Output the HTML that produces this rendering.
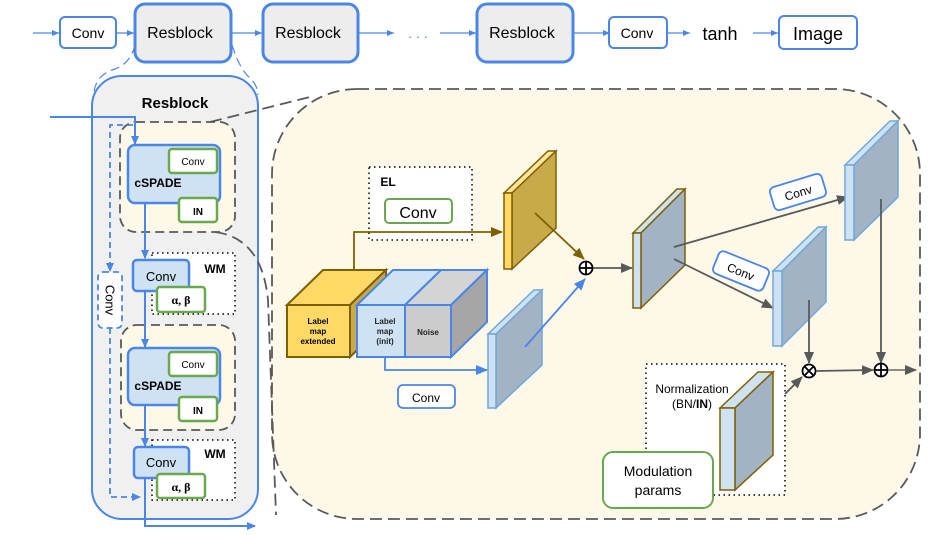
<!DOCTYPE html>
<html><head><meta charset="utf-8"><style>
html,body{margin:0;padding:0;background:#fff;}
svg{display:block;font-family:"Liberation Sans",Arial,sans-serif;}
</style></head><body>
<svg width="952" height="535" viewBox="0 0 952 535" xmlns="http://www.w3.org/2000/svg">
<defs>
<marker id="ab" markerWidth="9" markerHeight="9" refX="8" refY="4.5" orient="auto" markerUnits="userSpaceOnUse"><path d="M0,0.5 L9,4.5 L0,8.5z" fill="#4a86e8"/></marker>
<marker id="abs" markerWidth="8" markerHeight="6" refX="7" refY="3" orient="auto" markerUnits="userSpaceOnUse"><path d="M0,0 L7,3 L0,6z" fill="#4a86e8"/></marker>
<marker id="ag" markerWidth="12" markerHeight="10" refX="11" refY="5" orient="auto" markerUnits="userSpaceOnUse"><path d="M0,0 L12,5 L0,10z" fill="#595959"/></marker>
<marker id="aw" markerWidth="12" markerHeight="10" refX="11" refY="5" orient="auto" markerUnits="userSpaceOnUse"><path d="M0,0 L12,5 L0,10z" fill="#7f6000"/></marker>
<marker id="aB" markerWidth="12" markerHeight="10" refX="11" refY="5" orient="auto" markerUnits="userSpaceOnUse"><path d="M0,0 L12,5 L0,10z" fill="#4a86e8"/></marker>
</defs>

<!-- top row -->
<g stroke="#4a86e8" stroke-width="1.2" fill="none">
<line x1="33" y1="33" x2="59" y2="33" marker-end="url(#abs)"/>
<line x1="116" y1="33" x2="134" y2="33" marker-end="url(#abs)"/>
<line x1="231" y1="33" x2="262" y2="33" marker-end="url(#abs)"/>
<line x1="358" y1="33" x2="394" y2="33" marker-end="url(#abs)"/>
<line x1="440" y1="33" x2="476" y2="33" marker-end="url(#abs)"/>
<line x1="573" y1="33" x2="610" y2="33" marker-end="url(#abs)"/>
<line x1="667" y1="33" x2="690" y2="33" marker-end="url(#abs)"/>
<line x1="753" y1="33" x2="778" y2="33" marker-end="url(#abs)"/>
</g>
<rect x="60" y="17" width="56" height="31" rx="5" fill="#fff" stroke="#4a86e8" stroke-width="2"/>
<text x="88" y="38" font-size="14" text-anchor="middle">Conv</text>
<rect x="135" y="4" width="96" height="58" rx="10" fill="#ededed" stroke="#4a86e8" stroke-width="3"/>
<text x="180" y="38" font-size="16" text-anchor="middle">Resblock</text>
<rect x="263" y="4" width="95" height="58" rx="10" fill="#ededed" stroke="#4a86e8" stroke-width="3"/>
<text x="308" y="38" font-size="16" text-anchor="middle">Resblock</text>
<text x="418" y="38" font-size="14" text-anchor="middle" fill="#4a86e8">. . .</text>
<rect x="477" y="4" width="96" height="58" rx="10" fill="#ededed" stroke="#4a86e8" stroke-width="3"/>
<text x="522" y="38" font-size="16" text-anchor="middle">Resblock</text>
<rect x="609" y="17" width="58" height="31" rx="5" fill="#fff" stroke="#4a86e8" stroke-width="2"/>
<text x="637" y="38" font-size="14" text-anchor="middle">Conv</text>
<text x="720" y="40" font-size="18" text-anchor="middle">tanh</text>
<rect x="779" y="16" width="78" height="33" rx="5" fill="#fff" stroke="#4a86e8" stroke-width="2"/>
<text x="818" y="40" font-size="18" text-anchor="middle">Image</text>

<!-- dashed connectors to resblock -->
<path d="M135,45 Q130,65 112,70 Q96,76 94,92" fill="none" stroke="#4a86e8" stroke-width="1.2" stroke-dasharray="9,5"/>
<path d="M232,45 Q240,70 250,78 Q258,86 258,95" fill="none" stroke="#4a86e8" stroke-width="1.2" stroke-dasharray="9,5"/>

<!-- big dashed panel -->
<rect x="272" y="89" width="648" height="430" rx="85" fill="#fef8e8" stroke="#595959" stroke-width="1.8" stroke-dasharray="12,6"/>

<!-- resblock detail -->
<rect x="92" y="76" width="166" height="443" rx="30" fill="#f0f0f0" stroke="#4a86e8" stroke-width="2"/>
<text x="175" y="108" font-size="15" font-weight="bold" text-anchor="middle">Resblock</text>

<rect x="120" y="122" width="115" height="110" rx="16" fill="#fdf8e8" stroke="#595959" stroke-width="1.8" stroke-dasharray="9,5"/>
<rect x="121" y="325" width="114" height="105" rx="16" fill="#fdf8e8" stroke="#595959" stroke-width="1.8" stroke-dasharray="9,5"/>
<path d="M210,122 L310,97" fill="none" stroke="#595959" stroke-width="1.8" stroke-dasharray="12,6"/>
<path d="M215,232 Q262,238 268,300 L276,515" fill="none" stroke="#595959" stroke-width="1.8" stroke-dasharray="12,6"/>

<!-- input line -->
<path d="M50,117 L135,117 L135,144" fill="none" stroke="#4a86e8" stroke-width="2" marker-end="url(#ab)"/>
<!-- dashed skip -->
<path d="M133,125 L110,125 L110,271" fill="none" stroke="#4a86e8" stroke-width="1.8" stroke-dasharray="6,4" marker-end="url(#ab)"/>
<rect x="98" y="272" width="24" height="56" rx="5" fill="#fff" stroke="#4a86e8" stroke-width="1.8" stroke-dasharray="6,4"/>
<text x="110" y="300" font-size="13" text-anchor="middle" dominant-baseline="central" transform="rotate(90 110 300)">Conv</text>
<path d="M110,328 L110,497 L140,497" fill="none" stroke="#4a86e8" stroke-width="1.8" stroke-dasharray="6,4" marker-end="url(#ab)"/>

<!-- cSPADE 1 -->
<rect x="128" y="145" width="92" height="58" rx="7" fill="#cfe2f3" stroke="#4a86e8" stroke-width="2.5"/>
<rect x="169" y="149" width="48" height="24" rx="3" fill="#fff" stroke="#6aa84f" stroke-width="2.5"/>
<text x="193" y="165" font-size="10" text-anchor="middle">Conv</text>
<text x="158" y="187" font-size="12" font-weight="bold" text-anchor="middle">cSPADE</text>
<rect x="179" y="198" width="38" height="24" rx="3" fill="#fff" stroke="#6aa84f" stroke-width="2.5"/>
<text x="198" y="215" font-size="10" font-weight="bold" text-anchor="middle">IN</text>
<line x1="145" y1="203" x2="145" y2="258" stroke="#4a86e8" stroke-width="2" marker-end="url(#ab)"/>

<!-- WM 1 -->
<rect x="152" y="253" width="83" height="61" fill="#fff" stroke="#000" stroke-width="1.5" stroke-dasharray="1.5,3.5"/>
<text x="215" y="273" font-size="12" font-weight="bold" text-anchor="middle">WM</text>
<rect x="133" y="260" width="56" height="31" rx="4" fill="#cfe2f3" stroke="#4a86e8" stroke-width="2.5"/>
<text x="161" y="281" font-size="13" text-anchor="middle">Conv</text>
<rect x="157" y="287" width="48" height="25" rx="3" fill="#fff" stroke="#6aa84f" stroke-width="2.5"/>
<text x="181" y="304" font-size="12" font-weight="bold" font-family="Liberation Serif,serif" text-anchor="middle">α, β</text>
<line x1="145" y1="291" x2="145" y2="347" stroke="#4a86e8" stroke-width="2" marker-end="url(#ab)"/>

<!-- cSPADE 2 -->
<rect x="128" y="348" width="92" height="57" rx="7" fill="#cfe2f3" stroke="#4a86e8" stroke-width="2.5"/>
<rect x="169" y="352" width="48" height="24" rx="3" fill="#fff" stroke="#6aa84f" stroke-width="2.5"/>
<text x="193" y="368" font-size="10" text-anchor="middle">Conv</text>
<text x="158" y="390" font-size="12" font-weight="bold" text-anchor="middle">cSPADE</text>
<rect x="179" y="397" width="38" height="24" rx="3" fill="#fff" stroke="#6aa84f" stroke-width="2.5"/>
<text x="198" y="414" font-size="10" font-weight="bold" text-anchor="middle">IN</text>
<line x1="145" y1="405" x2="145" y2="446" stroke="#4a86e8" stroke-width="2" marker-end="url(#ab)"/>

<!-- WM 2 -->
<rect x="152" y="440" width="83" height="60" fill="#fff" stroke="#000" stroke-width="1.5" stroke-dasharray="1.5,3.5"/>
<text x="215" y="458" font-size="12" font-weight="bold" text-anchor="middle">WM</text>
<rect x="134" y="447" width="55" height="31" rx="4" fill="#cfe2f3" stroke="#4a86e8" stroke-width="2.5"/>
<text x="161" y="467" font-size="13" text-anchor="middle">Conv</text>
<rect x="157" y="474" width="48" height="24" rx="3" fill="#fff" stroke="#6aa84f" stroke-width="2.5"/>
<text x="181" y="491" font-size="12" font-weight="bold" font-family="Liberation Serif,serif" text-anchor="middle">α, β</text>
<path d="M145,478 L145,526 L255,526" fill="none" stroke="#4a86e8" stroke-width="2" marker-end="url(#ab)"/>

<!-- EL box -->
<rect x="369" y="167" width="103" height="73" fill="#fff" stroke="#000" stroke-width="1.5" stroke-dasharray="1.5,3.5"/>
<text x="388" y="186" font-size="12" font-weight="bold" text-anchor="middle">EL</text>
<rect x="385" y="199" width="67" height="24" rx="4" fill="#fff" stroke="#6aa84f" stroke-width="2"/>
<text x="418" y="218" font-size="16" text-anchor="middle">Conv</text>
<path d="M354,270 L354,232 L502,232" fill="none" stroke="#7f6000" stroke-width="1.8" marker-end="url(#aw)"/>

<!-- cubes -->
<polygon points="287,305 323,270 386,270 350,305" fill="#ffd966" stroke="#7f6000" stroke-width="2"/>
<polygon points="350,305 386,270 386,322 350,357" fill="#c9a94a" stroke="#7f6000" stroke-width="2"/>
<rect x="287" y="305" width="63" height="52" fill="#ffd966" stroke="#7f6000" stroke-width="2"/>
<text font-size="8" font-weight="bold" text-anchor="middle"><tspan x="318" y="324">Label</tspan><tspan x="318" y="334">map</tspan><tspan x="318" y="344">extended</tspan></text>
<polygon points="357,305 393,270 441,270 405,305" fill="#cfe2f3" stroke="#4a86e8" stroke-width="2"/>
<polygon points="405,305 441,270 487,270 451,305" fill="#d4d4d4" stroke="#4a86e8" stroke-width="2"/>
<polygon points="451,305 487,270 487,322 451,357" fill="#a6a6a6" stroke="#4a86e8" stroke-width="2"/>
<rect x="357" y="305" width="48" height="52" fill="#cfe2f3" stroke="#4a86e8" stroke-width="2"/>
<rect x="405" y="305" width="46" height="52" fill="#cccccc" stroke="#4a86e8" stroke-width="2"/>
<text font-size="8" font-weight="bold" text-anchor="middle" fill="#222"><tspan x="385" y="324">Label</tspan><tspan x="385" y="334">map</tspan><tspan x="385" y="344">(init)</tspan></text>
<text x="428" y="335" font-size="8" font-weight="bold" text-anchor="middle" fill="#222">Noise</text>

<!-- gold plane -->
<polygon points="504,193 548,151 556,151 512,193" fill="#ffe599" stroke="#7f6000" stroke-width="1.5"/>
<polygon points="512,193 556,151 556,228 512,269" fill="#c9a94a" stroke="#7f6000" stroke-width="1.5"/>
<rect x="504" y="193" width="8" height="76" fill="#ffd966" stroke="#7f6000" stroke-width="1.5"/>
<line x1="535" y1="213" x2="584" y2="259" stroke="#7f6000" stroke-width="1.8" marker-end="url(#aw)"/>

<!-- blue plane lower -->
<polygon points="488,334 534,290 542,290 496,334" fill="#cfe2f3" stroke="#6fa8dc" stroke-width="1.5"/>
<polygon points="496,334 542,290 542,365 496,408" fill="#a2b3c3" stroke="#6fa8dc" stroke-width="1.5"/>
<rect x="488" y="334" width="8" height="74" fill="#cfe2f3" stroke="#6fa8dc" stroke-width="1.5"/>
<path d="M385,357 L385,370 L487,370" fill="none" stroke="#4a86e8" stroke-width="1.8" marker-end="url(#aB)"/>
<rect x="398" y="385" width="57" height="23" rx="5" fill="#fff" stroke="#4a86e8" stroke-width="1.8"/>
<text x="426" y="402" font-size="12" text-anchor="middle">Conv</text>
<line x1="525" y1="347" x2="585" y2="279" stroke="#4a86e8" stroke-width="1.8" marker-end="url(#aB)"/>

<!-- oplus 1 -->
<circle cx="586" cy="268" r="6.5" fill="#fff" stroke="#000" stroke-width="1.8"/>
<line x1="579.5" y1="268" x2="592.5" y2="268" stroke="#000" stroke-width="1.8"/>
<line x1="586" y1="261.5" x2="586" y2="274.5" stroke="#000" stroke-width="1.8"/>
<line x1="593" y1="268" x2="632" y2="268" stroke="#595959" stroke-width="1.8" marker-end="url(#ag)"/>

<!-- middle plane -->
<polygon points="633,233 677,189 685,189 641,233" fill="#cfe2f3" stroke="#7f6000" stroke-width="1.5"/>
<polygon points="641,233 685,189 685,265 641,308" fill="#a2b3c3" stroke="#7f6000" stroke-width="1.5"/>
<rect x="633" y="233" width="8" height="75" fill="#cfe2f3" stroke="#7f6000" stroke-width="1.5"/>
<line x1="674" y1="247" x2="848" y2="197" stroke="#595959" stroke-width="1.8" marker-end="url(#ag)"/>
<line x1="674" y1="259" x2="773" y2="308" stroke="#595959" stroke-width="1.8" marker-end="url(#ag)"/>

<!-- upper right plane -->
<polygon points="845,165 890,121 898,121 854,165" fill="#cfe2f3" stroke="#6fa8dc" stroke-width="1.5"/>
<polygon points="854,165 898,121 898,197 854,240" fill="#a2b3c3" stroke="#6fa8dc" stroke-width="1.5"/>
<rect x="845" y="165" width="9" height="75" fill="#cfe2f3" stroke="#6fa8dc" stroke-width="1.5"/>
<!-- lower right plane -->
<polygon points="773,271 818,227 826,227 782,271" fill="#cfe2f3" stroke="#6fa8dc" stroke-width="1.5"/>
<polygon points="782,271 826,227 826,302 782,346" fill="#a2b3c3" stroke="#6fa8dc" stroke-width="1.5"/>
<rect x="773" y="271" width="9" height="75" fill="#cfe2f3" stroke="#6fa8dc" stroke-width="1.5"/>

<!-- rotated conv labels -->
<g transform="translate(798,192) rotate(-17)">
<rect x="-27" y="-12" width="54" height="24" rx="5" fill="#fff" stroke="#4a86e8" stroke-width="1.8"/>
<text x="0" y="5" font-size="12" text-anchor="middle">Conv</text></g>
<g transform="translate(741,271) rotate(22)">
<rect x="-27" y="-12" width="54" height="24" rx="5" fill="#fff" stroke="#4a86e8" stroke-width="1.8"/>
<text x="0" y="5" font-size="12" text-anchor="middle">Conv</text></g>

<line x1="809" y1="300" x2="809" y2="363" stroke="#595959" stroke-width="1.8" marker-end="url(#ag)"/>
<line x1="881" y1="199" x2="881" y2="363" stroke="#595959" stroke-width="1.8" marker-end="url(#ag)"/>

<!-- normalization -->
<rect x="646" y="364" width="139" height="131" fill="#fff" stroke="#000" stroke-width="1.5" stroke-dasharray="1.5,3.5"/>
<text x="692" y="393" font-size="12" text-anchor="middle">Normalization</text>
<text x="692" y="408" font-size="12" text-anchor="middle">(BN/<tspan font-weight="bold">IN</tspan>)</text>
<polygon points="720,408 758,372 773,372 735,408" fill="#cfe2f3" stroke="#7f6000" stroke-width="1.5"/>
<polygon points="735,408 773,372 773,455 735,490" fill="#a2b3c3" stroke="#7f6000" stroke-width="1.5"/>
<rect x="720" y="408" width="15" height="82" fill="#cfe2f3" stroke="#7f6000" stroke-width="1.5"/>
<line x1="785" y1="394" x2="802" y2="377" stroke="#595959" stroke-width="1.8" marker-end="url(#ag)"/>
<rect x="603" y="452" width="110" height="56" rx="10" fill="#fff" stroke="#6aa84f" stroke-width="2"/>
<text x="658" y="476" font-size="14" text-anchor="middle">Modulation</text>
<text x="658" y="495" font-size="14" text-anchor="middle">params</text>

<!-- otimes -->
<circle cx="809" cy="371" r="6.5" fill="#fff" stroke="#000" stroke-width="1.8"/>
<line x1="804.4" y1="366.4" x2="813.6" y2="375.6" stroke="#000" stroke-width="1.8"/>
<line x1="813.6" y1="366.4" x2="804.4" y2="375.6" stroke="#000" stroke-width="1.8"/>
<line x1="816" y1="371" x2="873" y2="370" stroke="#595959" stroke-width="1.8" marker-end="url(#ag)"/>
<circle cx="881" cy="370" r="6.5" fill="#fff" stroke="#000" stroke-width="1.8"/>
<line x1="874.5" y1="370" x2="887.5" y2="370" stroke="#000" stroke-width="1.8"/>
<line x1="881" y1="363.5" x2="881" y2="376.5" stroke="#000" stroke-width="1.8"/>
<line x1="888" y1="370" x2="916" y2="370" stroke="#7f7f6f" stroke-width="1.8" marker-end="url(#ag)"/>
</svg>
</body></html>
